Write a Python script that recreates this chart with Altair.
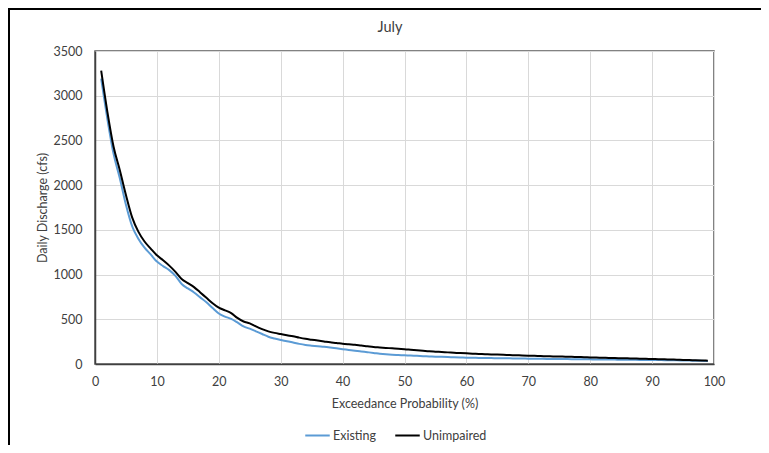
import altair as alt
import pandas as pd

prob = list(range(1, 100))

unimpaired = [
    3280, 2820, 2430, 2170, 1890, 1640, 1480, 1370, 1290, 1215,
    1160, 1100, 1030, 950, 905, 860, 800, 740, 680, 630,
    600, 570, 515, 475, 455, 420, 390, 365, 348, 335,
    322, 310, 295, 282, 272, 262, 252, 242, 235, 226,
    220, 215, 206, 198, 190, 185, 180, 175, 170, 166,
    160, 154, 148, 142, 138, 134, 130, 126, 122, 119,
    116, 113, 110, 107, 105, 103, 100, 98, 95, 93,
    91, 89, 87, 85, 83, 82, 80, 78, 76, 74,
    72, 70, 68, 66, 65, 63, 61, 60, 58, 56,
    54, 52, 50, 48, 46, 44, 42, 40, 37,
]

existing = [
    3190, 2740, 2350, 2080, 1780, 1540, 1400, 1300, 1225, 1145,
    1095, 1050, 985, 895, 845, 800, 745, 690, 625, 565,
    530, 505, 465, 420, 395, 365, 335, 305, 285, 268,
    255, 240, 225, 213, 205, 198, 192, 184, 175, 166,
    157, 148, 140, 132, 124, 115, 108, 103, 100, 97,
    94, 91, 88, 85, 82, 80, 78, 75, 73, 71,
    70, 68, 67, 66, 65, 64, 63, 62, 61, 60,
    59, 58, 57, 57, 56, 55, 54, 54, 53, 52,
    51, 51, 50, 49, 48, 48, 47, 46, 46, 45,
    44, 43, 42, 41, 40, 38, 37, 35, 33,
]

series_names = ["Existing", "Unimpaired"]
series_colors = ["#5B9BD5", "#000000"]
x_ticks = list(range(0, 101, 10))
y_ticks = list(range(0, 3501, 500))

df = pd.concat([
    pd.DataFrame({"p": prob, "v": existing, "s": "Existing"}),
    pd.DataFrame({"p": prob, "v": unimpaired, "s": "Unimpaired"}),
])

FONT = "Lato"
TXT = "#404040"
W, H = 619, 313

lines = alt.Chart(df).mark_line(strokeWidth=2, interpolate="monotone").encode(
    x=alt.X("p:Q", scale=alt.Scale(domain=[0, 100], nice=False),
            axis=alt.Axis(values=x_ticks, title="Exceedance Probability (%)",
                          titleX=309.5, titleY=39, titleBaseline="middle",
                          titleFontWeight="normal", titleFontSize=12.5,
                          labelPadding=11, labelFontSize=12.5, labelFlush=False)),
    y=alt.Y("v:Q", scale=alt.Scale(domain=[0, 3500], nice=False),
            axis=alt.Axis(values=y_ticks, format="d", title="Daily Discharge (cfs)",
                          titleX=-53, titleY=156.5, titleAngle=-90,
                          titleBaseline="middle", titleFontWeight="normal",
                          titleFontSize=12.5, labelPadding=13, labelFontSize=12.5,
                          labelFlush=False)),
    color=alt.Color("s:N", scale=alt.Scale(domain=series_names, range=series_colors),
                    legend=alt.Legend(title=None, orient="none", direction="horizontal",
                                      legendX=209, legendY=371, padding=0,
                                      symbolType="stroke",
                                      symbolSize=600, symbolStrokeWidth=2,
                                      labelFontSize=12.5, labelOffset=2,
                                      columnPadding=14, labelColor=TXT,
                                      labelFont=FONT)),
)

title = alt.Chart(pd.DataFrame({"t": ["July"]})).mark_text(
    fontSize=14.5, font=FONT, color=TXT, baseline="middle", align="center"
).encode(x=alt.value(295), y=alt.value(-23), text="t:N")

border_left = alt.Chart(pd.DataFrame({"a": [0]})).mark_rule(
    color="#000000", strokeWidth=2
).encode(x=alt.value(-86), y=alt.value(-42), y2=alt.value(394))

border_top = alt.Chart(pd.DataFrame({"a": [0]})).mark_rule(
    color="#000000", strokeWidth=2
).encode(x=alt.value(-87), x2=alt.value(666), y=alt.value(-42))

chart = alt.layer(border_left, border_top, lines, title).properties(
    width=W, height=H,
    autosize=alt.AutoSizeParams(type="none"),
    padding={"left": 87, "top": 43, "right": 47, "bottom": 81},
).configure_view(
    stroke="#595959", strokeWidth=1.5
).configure_axis(
    grid=True, gridColor="#D9D9D9", gridWidth=1,
    domainColor="#404040", domainWidth=1.5, ticks=False,
    labelFont=FONT, titleFont=FONT, labelColor=TXT, titleColor=TXT,
)

chart.save("out.html", embed_options={"renderer": "svg", "actions": False})
